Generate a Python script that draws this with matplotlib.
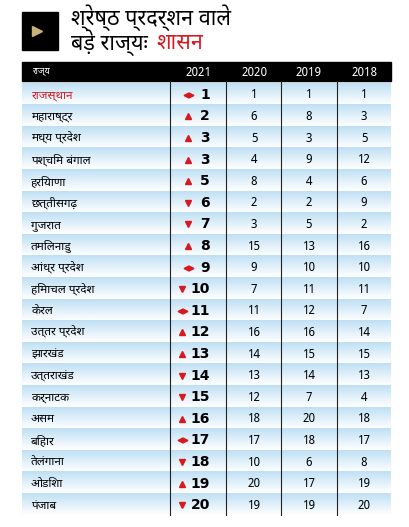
import matplotlib
matplotlib.use("Agg")
import matplotlib.pyplot as plt
import numpy as np

states = ["राजस्थान", "महाराष्ट्र", "मध्य प्रदेश", "पश्चिम बंगाल", "हरियाणा", "छत्तीसगढ़",
          "गुजरात", "तमिलनाडु", "आंध्र प्रदेश", "हिमाचल प्रदेश", "केरल", "उत्तर प्रदेश",
          "झारखंड", "उत्तराखंड", "कर्नाटक", "असम", "बिहार", "तेलंगाना", "ओडिशा", "पंजाब"]
rank_2021 = [1, 2, 3, 3, 5, 6, 7, 8, 9, 10, 11, 12, 13, 14, 15, 16, 17, 18, 19, 20]
rank_2020 = [1, 6, 5, 4, 8, 2, 3, 15, 9, 7, 11, 16, 14, 13, 12, 18, 17, 10, 20, 19]
rank_2019 = [1, 8, 3, 9, 4, 2, 5, 13, 10, 11, 12, 16, 15, 14, 7, 20, 18, 6, 17, 19]
rank_2018 = [1, 3, 5, 12, 6, 9, 2, 16, 10, 11, 7, 14, 15, 13, 4, 18, 17, 8, 19, 20]
years = ["2021", "2020", "2019", "2018"]

FONT = ["Noto Sans Devanagari", "Noto Sans", "DejaVu Sans"]
plt.rcParams["font.family"] = FONT
RED = "#d71920"

fig = plt.figure(figsize=(4.09, 5.27), dpi=100)
ax = fig.add_axes([0, 0, 1, 1])
ax.set_xlim(0, 409)
ax.set_ylim(527, 0)
ax.axis("off")

# title block
ax.add_patch(plt.Rectangle((22, 12), 36, 38, color="black"))
ax.plot([37], [31], marker=">", color="#c8b27a", ms=7)
ax.text(71, 18, "श्रेष्ठ प्रदर्शन वाले", fontsize=15.5, fontweight="heavy", va="center")
ax.text(71, 43, "बड़े राज्यः", fontsize=15.5, fontweight="heavy", va="center")
ax.text(156, 43, "शासन", fontsize=15.5, fontweight="heavy", va="center", color=RED)

# header
left, right = 22, 391
head_top, head_bot = 62, 81
ax.add_patch(plt.Rectangle((left, head_top), right - left, head_bot - head_top, color="black"))
col_x = [198, 254, 309, 364]
sep_x = [170, 226, 281, 337]
ax.text(32, 72, "राज्य", color="white", fontsize=6.5, va="center")
for x, y in zip(col_x, years):
    ax.text(x, 72, y, color="white", fontsize=8.5, va="center", ha="center")

row_top = 83
row_h = 21.6
grad = np.linspace(0, 1, 50).reshape(-1, 1)
cmap = matplotlib.colors.LinearSegmentedColormap.from_list("b", ["#bfe0f4", "#ffffff"])
for i, name in enumerate(states):
    y0 = row_top + i * row_h
    ax.imshow(grad, extent=(left, right, y0 + row_h, y0), cmap=cmap, aspect="auto", zorder=0)
    yc = y0 + row_h / 2 + 1
    ax.text(31, yc, name, fontsize=8.5, va="center", color=RED if i == 0 else "black")
    r21, r20 = rank_2021[i], rank_2020[i]
    ax.text(210, yc, str(r21), fontsize=10, fontweight="heavy", family="DejaVu Sans",
            va="center", ha="right")
    mx = 188 if r21 < 10 else 182
    if r21 < r20:
        ax.plot([mx], [yc], marker="^", color=RED, ms=4)
    elif r21 > r20:
        ax.plot([mx], [yc], marker="v", color=RED, ms=4)
    else:
        ax.plot([mx - 2.5], [yc], marker="<", color=RED, ms=3.5)
        ax.plot([mx + 2.5], [yc], marker=">", color=RED, ms=3.5)
    for x, v in zip(col_x[1:], (rank_2020[i], rank_2019[i], rank_2018[i])):
        ax.text(x, yc, str(v), fontsize=8.5, va="center", ha="center")

bottom = row_top + len(states) * row_h
for x in sep_x:
    ax.plot([x, x], [head_bot, bottom], color="#222222", lw=0.8)

fig.savefig("out.png", dpi=100)
